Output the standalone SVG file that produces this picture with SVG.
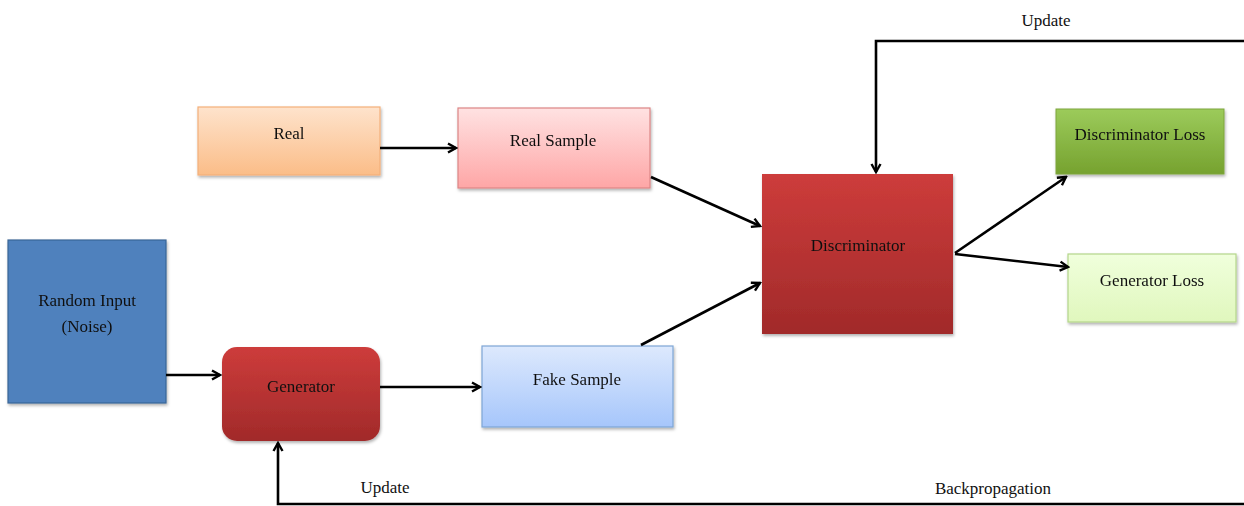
<svg xmlns="http://www.w3.org/2000/svg" width="1244" height="506" viewBox="0 0 1244 506">
<style>
text{font-family:"Liberation Serif","Times New Roman",serif;font-size:17px;fill:#111;text-anchor:middle}
.c{fill:none;stroke:#000;stroke-width:2.6;marker-end:url(#ah)}
.box{filter:url(#sh)}
</style>
<defs>
<filter id="sh" x="-10%" y="-10%" width="120%" height="130%"><feDropShadow dx="1" dy="2" stdDeviation="1.5" flood-color="#000" flood-opacity="0.3"/></filter>
<marker id="ah" viewBox="0 0 12 12" refX="10" refY="6" markerWidth="12" markerHeight="12" markerUnits="userSpaceOnUse" orient="auto"><polyline points="2,1.5 10,6 2,10.5" fill="none" stroke="#000" stroke-width="2.4"/></marker>
<linearGradient id="gOr" x1="0" y1="0" x2="0" y2="1"><stop offset="0" stop-color="#fee3cc"/><stop offset="1" stop-color="#fbbd88"/></linearGradient>
<linearGradient id="gPk" x1="0" y1="0" x2="0" y2="1"><stop offset="0" stop-color="#ffe2e2"/><stop offset="1" stop-color="#fea6a6"/></linearGradient>
<linearGradient id="gRd" x1="0" y1="0" x2="0" y2="1"><stop offset="0" stop-color="#cd3c3b"/><stop offset="1" stop-color="#a12a2a"/></linearGradient>
<linearGradient id="gBl" x1="0" y1="0" x2="0" y2="1"><stop offset="0" stop-color="#dde9fd"/><stop offset="1" stop-color="#a6c6fb"/></linearGradient>
<linearGradient id="gGr" x1="0" y1="0" x2="0" y2="1"><stop offset="0" stop-color="#9ccb5b"/><stop offset="1" stop-color="#76a22f"/></linearGradient>
<linearGradient id="gLg" x1="0" y1="0" x2="0" y2="1"><stop offset="0" stop-color="#f0ffdc"/><stop offset="1" stop-color="#e0f7bd"/></linearGradient>
</defs>
<g id="real" class="box"><rect x="198" y="107" width="182" height="68" fill="url(#gOr)" stroke="#f4b07a" stroke-width="1.2"/><text x="289" y="139">Real</text></g>
<g id="real-sample" class="box"><rect x="458" y="108" width="192" height="80" fill="url(#gPk)" stroke="#dd8585" stroke-width="1.2"/><text x="553" y="146">Real Sample</text></g>
<g id="random-input" class="box"><rect x="8" y="240" width="158" height="163" fill="#4f81bd" stroke="#3a6696" stroke-width="1.2"/><text x="87" y="306">Random Input</text><text x="87" y="332">(Noise)</text></g>
<g id="generator" class="box"><rect x="222" y="347" width="158" height="94" rx="15" fill="url(#gRd)"/><text x="301" y="392">Generator</text></g>
<g id="fake-sample" class="box"><rect x="482" y="346" width="191" height="81" fill="url(#gBl)" stroke="#7ea6d6" stroke-width="1.2"/><text x="577" y="385">Fake Sample</text></g>
<g id="discriminator" class="box"><rect x="762" y="174" width="191" height="160" fill="url(#gRd)"/><text x="858" y="251">Discriminator</text></g>
<g id="discriminator-loss" class="box"><rect x="1056" y="109" width="168" height="65" fill="url(#gGr)" stroke="#7ea53c" stroke-width="1"/><text x="1140" y="140">Discriminator Loss</text></g>
<g id="generator-loss" class="box"><rect x="1068" y="254" width="168" height="68" fill="url(#gLg)" stroke="#b4d68a" stroke-width="1.2"/><text x="1152" y="286">Generator Loss</text></g>
<g id="connectors">
<line class="c" x1="380" y1="148" x2="456" y2="148"/>
<line class="c" x1="651" y1="177" x2="760" y2="226"/>
<line class="c" x1="641" y1="345" x2="760" y2="283"/>
<line class="c" x1="166" y1="375" x2="220" y2="375"/>
<line class="c" x1="380" y1="387" x2="480" y2="387"/>
<line class="c" x1="955" y1="253" x2="1066" y2="177"/>
<line class="c" x1="955" y1="254" x2="1068" y2="267"/>
<polyline class="c" points="1244,41 876,41 876,172"/>
<polyline class="c" points="1244,504 278,504 278,443"/>
</g>
<text x="1046" y="26">Update</text>
<text x="385" y="493">Update</text>
<text x="993" y="494">Backpropagation</text>
</svg>
